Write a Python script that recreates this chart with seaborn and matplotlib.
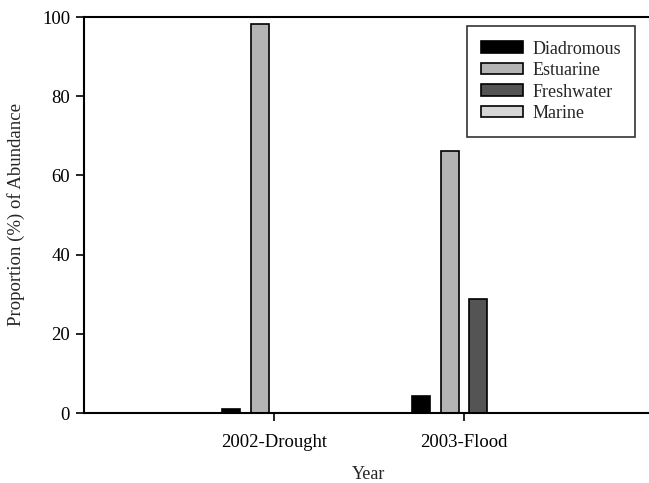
import matplotlib
matplotlib.use("Agg")
import matplotlib.pyplot as plt
import seaborn as sns
import pandas as pd

years = ["2002-Drought", "2003-Flood"]
groups = ["Diadromous", "Estuarine", "Freshwater", "Marine"]
diadromous = [1.0, 4.3]
estuarine = [98.3, 66.2]
freshwater = [0.0, 28.8]
marine = [0.0, 0.0]
colors = ["#000000", "#b4b4b4", "#545454", "#d6d6d6"]

rows = []
for g, vals in zip(groups, [diadromous, estuarine, freshwater, marine]):
    for y, v in zip(years, vals):
        rows.append({"Year": y, "Group": g, "Value": v})
df = pd.DataFrame(rows)

sns.set_theme(style="white")
plt.rcParams["font.family"] = ["Liberation Serif", "DejaVu Serif"]

fig = plt.figure(figsize=(6.49, 4.83), dpi=100)
ax = fig.add_axes([84/649, 1-413/483, 570/649, 396/483])
sns.barplot(data=df, x="Year", y="Value", hue="Group", hue_order=groups,
            palette=colors, width=0.6, gap=0.37, edgecolor="black",
            linewidth=1.2, ax=ax, legend=False)
ax.set_xlim(-1, 2)
ax.set_ylim(0, 100)
ax.set_yticks([0, 20, 40, 60, 80, 100])
for s in ["left", "bottom", "top"]:
    ax.spines[s].set_color("black")
    ax.spines[s].set_linewidth(1.5)
ax.spines["right"].set_visible(False)
ax.tick_params(axis="both", direction="out", length=6, width=1.2, colors="black",
               labelsize=13.5, bottom=True, left=True)
ax.tick_params(axis="x", pad=9)
ax.tick_params(axis="y", pad=4)
ax.set_xlabel("Year", fontsize=13, labelpad=11)
ax.set_ylabel("Proportion (%) of Abundance", fontsize=13.5, labelpad=12)

from matplotlib.patches import Patch
handles = [Patch(facecolor=c, edgecolor="black", linewidth=1.2) for c in colors]
leg = ax.legend(handles, groups, loc="upper left", bbox_to_anchor=(0.672, 0.977),
                frameon=True, fancybox=False, fontsize=13, handlelength=2.3,
                handleheight=0.6, borderpad=0.8, labelspacing=0.25,
                handletextpad=0.5, borderaxespad=0)
leg.get_frame().set_edgecolor("black")
leg.get_frame().set_linewidth(1.2)

fig.savefig("out.png", dpi=100)
